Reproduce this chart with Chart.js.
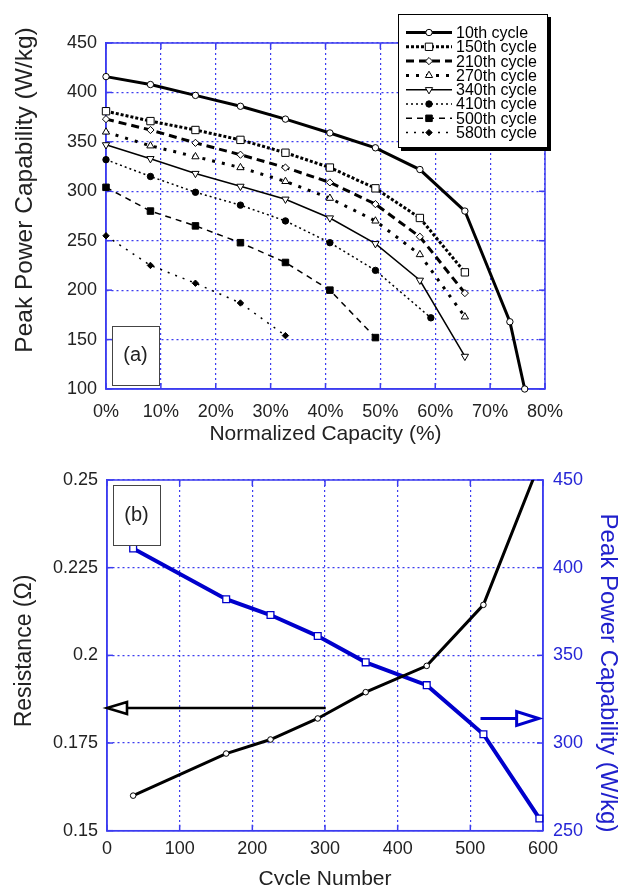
<!DOCTYPE html>
<html>
<head>
<meta charset="utf-8">
<script src="https://cdn.jsdelivr.net/npm/chart.js@4.4.1/dist/chart.umd.min.js"></script>
<style>
html, body { margin: 0; padding: 0; background: #fff; overflow: hidden; width: 625px; height: 885px; }
#grafica-a { position: absolute; left: 0; top: 0; }
#grafica-b { position: absolute; left: 0; top: 455px; }
</style>
</head>
<body>
<canvas id="grafica-a" width="625" height="455"></canvas>
<canvas id="grafica-b" width="625" height="450"></canvas>
<script>
// (a) peak power vs normalized capacity, one array per cycle
var cycleLabels = ['10th cycle', '150th cycle', '210th cycle', '270th cycle', '340th cycle', '410th cycle', '500th cycle', '580th cycle'];

var capacity10  = [0, 8.1, 16.3, 24.5, 32.7, 40.8, 49.1, 57.2, 65.4, 73.6, 76.3];
var capacity    = [0, 8.1, 16.3, 24.5, 32.7, 40.8, 49.1, 57.2, 65.4];
var capacity410 = [0, 8.1, 16.3, 24.5, 32.7, 40.8, 49.1, 59.2];
var capacity500 = [0, 8.1, 16.3, 24.5, 32.7, 40.8, 49.1];
var capacity580 = [0, 8.1, 16.3, 24.5, 32.7];

var power10  = [416, 408, 397, 386, 373, 359, 344, 322, 280, 168, 100];
var power150 = [381, 371, 362, 352, 339, 324, 303, 273, 218];
var power210 = [373, 362, 349, 337, 324, 309, 287, 254, 197];
var power270 = [360, 346, 335, 324, 310, 293, 270, 236, 173];
var power340 = [347, 333, 318, 305, 292, 273, 247, 210, 133];
var power410 = [332, 315, 299, 286, 270, 248, 220, 172];
var power500 = [304, 280, 265, 248, 228, 200, 152];
var power580 = [255, 225, 207, 187, 154];

var capacityTicks = ['0%', '10%', '20%', '30%', '40%', '50%', '60%', '70%', '80%'];
var powerTicksA   = ['100', '150', '200', '250', '300', '350', '400', '450'];

// (b) resistance and peak power vs cycle number
var cycles     = [36, 164, 225, 290, 356, 440, 518, 595];
var resistance = [0.160, 0.172, 0.176, 0.182, 0.1895, 0.197, 0.2144, 0.2547];
var powerB     = [411, 382, 373, 361, 346, 333, 305, 257];

var cycleTicks      = ['0', '100', '200', '300', '400', '500', '600'];
var resistanceTicks = ['0.15', '0.175', '0.2', '0.225', '0.25'];
var powerTicksB     = ['250', '300', '350', '400', '450'];

var azul = '#3c3cf0';
var azulLinea = '#0000cc';
var fuente = '"Liberation Sans", Arial, sans-serif';

function puntos(xs, ys) {
    return xs.map(function (x, i) { return {x: x, y: ys[i]}; });
}

var estilos = [
    {w: 3,   dash: [],     style: 'circle',   r: 3.2, fill: '#fff', rot: 0},
    {w: 3,   dash: [3, 2], style: 'rect',     r: 5.2, fill: '#fff', rot: 0},
    {w: 3,   dash: [8, 5], style: 'rectRot',  r: 3.6, fill: '#fff', rot: 0},
    {w: 3,   dash: [3, 7], style: 'triangle', r: 4.2, fill: '#fff', rot: 0},
    {w: 1.5, dash: [],     style: 'triangle', r: 4.2, fill: '#fff', rot: 180},
    {w: 1.5, dash: [2, 3], style: 'circle',   r: 3.2, fill: '#000', rot: 0},
    {w: 1.5, dash: [6, 5], style: 'rect',     r: 4.6, fill: '#000', rot: 0},
    {w: 1.5, dash: [2, 6], style: 'rectRot',  r: 3.2, fill: '#000', rot: 0}
];

var series = [
    puntos(capacity10, power10),
    puntos(capacity, power150),
    puntos(capacity, power210),
    puntos(capacity, power270),
    puntos(capacity, power340),
    puntos(capacity410, power410),
    puntos(capacity500, power500),
    puntos(capacity580, power580)
];

function linea(ctx, x1, y1, x2, y2) {
    ctx.beginPath();
    ctx.moveTo(x1, y1);
    ctx.lineTo(x2, y2);
    ctx.stroke();
}

// blue frame and short inward ticks
var marco = {
    id: 'marco',
    beforeDatasetsDraw: function (chart) {
        var a = chart.chartArea, ctx = chart.ctx;
        ctx.save();
        ctx.strokeStyle = azul;
        ctx.lineWidth = 1.5;
        ctx.setLineDash([]);
        ctx.strokeRect(a.left, a.top, a.right - a.left, a.bottom - a.top);
        var xs = chart.scales.x;
        xs.ticks.forEach(function (t) {
            var p = xs.getPixelForValue(t.value);
            linea(ctx, p, a.bottom, p, a.bottom - 6);
            linea(ctx, p, a.top, p, a.top + 6);
        });
        var ys = chart.scales.y;
        ys.ticks.forEach(function (t) {
            var p = ys.getPixelForValue(t.value);
            linea(ctx, a.left, p, a.left + 6, p);
            linea(ctx, a.right, p, a.right - 6, p);
        });
        ctx.restore();
    }
};

// vertical axis title, centred on (x, y)
function tituloVertical(ctx, texto, x, y, size, color, giro) {
    ctx.save();
    ctx.translate(x, y);
    ctx.rotate(giro);
    ctx.fillStyle = color;
    ctx.font = size + 'px ' + fuente;
    ctx.textAlign = 'center';
    ctx.textBaseline = 'middle';
    ctx.fillText(texto, 0, 0);
    ctx.restore();
}

function cajaEtiqueta(ctx, x, y, w, h, texto) {
    ctx.save();
    ctx.fillStyle = '#fff';
    ctx.fillRect(x, y, w, h);
    ctx.strokeStyle = '#444';
    ctx.lineWidth = 1;
    ctx.setLineDash([]);
    ctx.strokeRect(x + 0.5, y + 0.5, w, h);
    ctx.fillStyle = '#222';
    ctx.font = '20px ' + fuente;
    ctx.textAlign = 'center';
    ctx.textBaseline = 'middle';
    ctx.fillText(texto, x + w / 2, y + h / 2);
    ctx.restore();
}

var extrasA = {
    id: 'extrasA',
    afterDraw: function (chart) {
        var ctx = chart.ctx, a = chart.chartArea;
        ctx.save();
        ctx.fillStyle = '#000';
        ctx.fillRect(401, 17, 150, 134);
        ctx.fillStyle = '#fff';
        ctx.fillRect(398, 14, 150, 134);
        ctx.strokeStyle = '#000';
        ctx.lineWidth = 1;
        ctx.strokeRect(398.5, 14.5, 149, 133);
        chart.data.datasets.forEach(function (ds, i) {
            var y = 32.5 + i * 14.3;
            ctx.strokeStyle = '#000';
            ctx.setLineDash(ds.borderDash);
            ctx.lineWidth = ds.borderWidth;
            linea(ctx, 406, y, 452, y);
            ctx.setLineDash([]);
            ctx.lineWidth = 1;
            ctx.fillStyle = ds.pointBackgroundColor;
            Chart.helpers.drawPoint(ctx, {pointStyle: ds.pointStyle, rotation: ds.pointRotation, radius: ds.pointRadius, borderWidth: 1}, 429, y);
            ctx.fillStyle = '#000';
            ctx.font = '16px ' + fuente;
            ctx.textBaseline = 'middle';
            ctx.textAlign = 'left';
            ctx.fillText(ds.label, 456, y + 1);
        });
        ctx.restore();
        cajaEtiqueta(ctx, a.left + 6, a.bottom - 63, 47, 59, '(a)');
        tituloVertical(ctx, 'Peak Power Capability (W/kg)', 25, a.top + 147, 24.5, '#222', -Math.PI / 2);
    }
};

function flecha(ctx, x1, x2, y, color, ancho, largo, medio) {
    var dir = x2 > x1 ? 1 : -1;
    var base = x2 - dir * largo;
    ctx.save();
    ctx.strokeStyle = color;
    ctx.lineWidth = ancho;
    ctx.setLineDash([]);
    linea(ctx, x1, y, base, y);
    ctx.beginPath();
    ctx.moveTo(x2, y);
    ctx.lineTo(base, y - medio);
    ctx.lineTo(base, y + medio);
    ctx.closePath();
    ctx.fillStyle = '#fff';
    ctx.fill();
    ctx.lineJoin = 'miter';
    ctx.stroke();
    ctx.restore();
}

var extrasB = {
    id: 'extrasB',
    afterDraw: function (chart) {
        var ctx = chart.ctx, a = chart.chartArea, s = chart.scales;
        flecha(ctx, s.x.getPixelForValue(301), s.x.getPixelForValue(0), s.y.getPixelForValue(0.185), '#000', 2.6, 20, 6);
        flecha(ctx, s.x.getPixelForValue(514), s.x.getPixelForValue(594), s.y2.getPixelForValue(314), azulLinea, 3, 22, 7);
        cajaEtiqueta(ctx, a.left + 6, a.top + 5, 47, 60, '(b)');
        tituloVertical(ctx, 'Resistance (\u03A9)', 25, a.top + 171, 23, '#222', -Math.PI / 2);
        tituloVertical(ctx, 'Peak Power Capability (W/kg)', 608, a.top + 193, 24, '#2020cc', Math.PI / 2);
    }
};

function tituloEje(texto, color, size, padding) {
    return {display: true, text: texto, color: color, font: {family: fuente, size: size}, padding: padding};
}

var ticksFont = {family: fuente, size: 18};

new Chart(document.getElementById('grafica-a').getContext('2d'), {
    type: 'line',
    data: {
        datasets: series.map(function (d, i) {
            var e = estilos[i];
            return {
                label: cycleLabels[i],
                data: d,
                borderColor: '#000',
                borderWidth: e.w,
                borderDash: e.dash,
                pointStyle: e.style,
                pointRadius: e.r,
                pointRotation: e.rot,
                pointBackgroundColor: e.fill,
                pointBorderColor: '#000',
                pointBorderWidth: 1,
                tension: 0,
                fill: false,
                clip: false
            };
        })
    },
    options: {
        responsive: false,
        animation: false,
        events: [],
        layout: {padding: {top: 43, right: 80, left: 0, bottom: 0}},
        plugins: {legend: {display: false}, tooltip: {enabled: false}},
        scales: {
            x: {
                type: 'linear', min: 0, max: 80,
                ticks: {stepSize: 10, color: '#222', font: ticksFont, padding: 12, maxRotation: 0,
                    callback: function (v, i) { return capacityTicks[i]; }},
                grid: {color: azul, lineWidth: 1.2, drawTicks: false},
                border: {color: azul, width: 1.5, dash: [2, 3]},
                title: tituloEje('Normalized Capacity (%)', '#222', 21, {top: 0, bottom: 8}),
                afterFit: function (s) { s.height = 66; }
            },
            y: {
                type: 'linear', min: 100, max: 450,
                ticks: {stepSize: 50, color: '#222', font: ticksFont, padding: 9,
                    callback: function (v, i) { return powerTicksA[i]; }},
                grid: {color: azul, lineWidth: 1.2, drawTicks: false},
                border: {color: azul, width: 1.5, dash: [2, 3]},
                afterFit: function (s) { s.width = 106; }
            }
        }
    },
    plugins: [marco, extrasA]
});

new Chart(document.getElementById('grafica-b').getContext('2d'), {
    type: 'line',
    data: {
        datasets: [{
            label: 'Resistance',
            data: puntos(cycles, resistance),
            yAxisID: 'y',
            borderColor: '#000',
            borderWidth: 3,
            pointStyle: 'circle',
            pointRadius: 2.8,
            pointBackgroundColor: '#fff',
            pointBorderColor: '#000',
            pointBorderWidth: 1,
            tension: 0,
            fill: false
        }, {
            label: 'Peak Power Capability',
            data: puntos(cycles, powerB),
            yAxisID: 'y2',
            borderColor: azulLinea,
            borderWidth: 4,
            pointStyle: 'rect',
            pointRadius: 4.8,
            pointBackgroundColor: '#fff',
            pointBorderColor: azulLinea,
            pointBorderWidth: 1.3,
            tension: 0,
            fill: false,
            clip: 8
        }]
    },
    options: {
        responsive: false,
        animation: false,
        events: [],
        layout: {padding: {top: 25, right: 0, left: 0, bottom: 0}},
        plugins: {legend: {display: false}, tooltip: {enabled: false}},
        scales: {
            x: {
                type: 'linear', min: 0, max: 600,
                ticks: {stepSize: 100, color: '#222', font: ticksFont, padding: 8, maxRotation: 0,
                    callback: function (v, i) { return cycleTicks[i]; }},
                grid: {color: azul, lineWidth: 1.2, drawTicks: false},
                border: {color: azul, width: 1.5, dash: [2, 3]},
                title: tituloEje('Cycle Number', '#222', 21, {top: 0, bottom: 13}),
                afterFit: function (s) { s.height = 74.3; }
            },
            y: {
                type: 'linear', position: 'left', min: 0.15, max: 0.25,
                ticks: {stepSize: 0.025, color: '#222', font: ticksFont, padding: 9,
                    callback: function (v, i) { return resistanceTicks[i]; }},
                grid: {color: azul, lineWidth: 1.2, drawTicks: false},
                border: {color: azul, width: 1.5, dash: [2, 3]},
                afterFit: function (s) { s.width = 107; }
            },
            y2: {
                type: 'linear', position: 'right', min: 250, max: 450,
                ticks: {stepSize: 50, color: '#2626d6', font: ticksFont, padding: 10,
                    callback: function (v, i) { return powerTicksB[i]; }},
                grid: {display: false, drawTicks: false},
                border: {color: azul, width: 1.5},
                afterFit: function (s) { s.width = 82; }
            }
        }
    },
    plugins: [marco, extrasB]
});
</script>
</body>
</html>
